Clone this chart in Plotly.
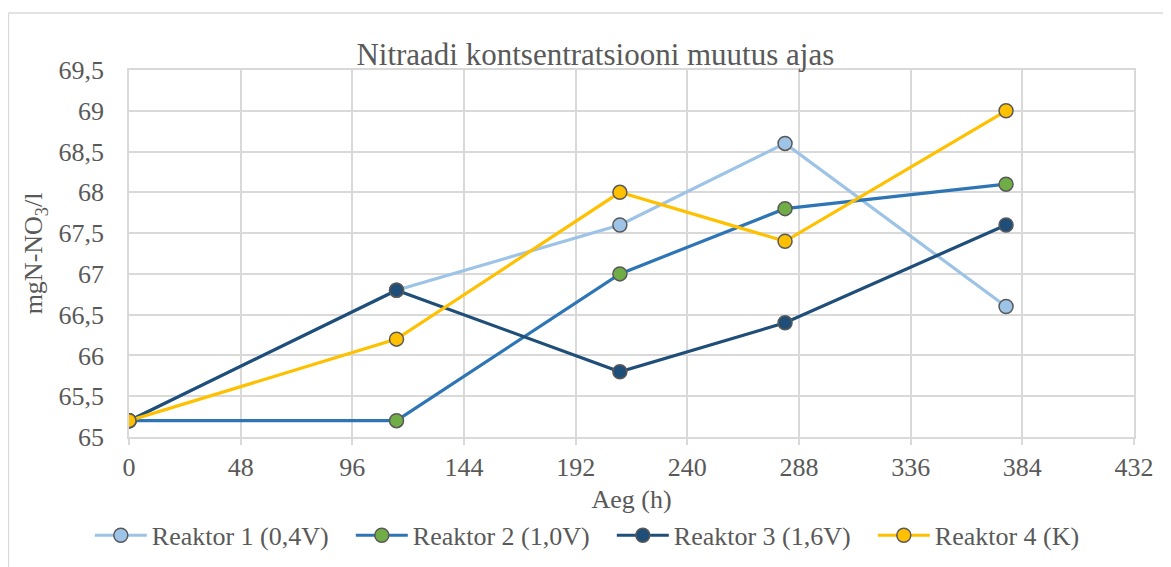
import plotly.graph_objects as go

# time points (h)
aeg = [0, 115, 211, 282, 377]

reaktor_1 = [65.2, 66.8, 67.6, 68.6, 66.6]
reaktor_2 = [65.2, 65.2, 67.0, 67.8, 68.1]
reaktor_3 = [65.2, 66.8, 65.8, 66.4, 67.6]
reaktor_4 = [65.2, 66.2, 68.0, 67.4, 69.0]

series = [
    ("Reaktor 1 (0,4V)", reaktor_1, "#9DC3E6", "#9DC3E6"),
    ("Reaktor 2 (1,0V)", reaktor_2, "#2E75B6", "#70AD47"),
    ("Reaktor 3 (1,6V)", reaktor_3, "#1F4E79", "#1F4E79"),
    ("Reaktor 4 (K)", reaktor_4, "#FFC000", "#FFC000"),
]

FONT = "Liberation Serif"
GRAY = "#595959"
GRID = "#D9D9D9"

fig = go.Figure()
for name, vals, line_col, marker_col in series:
    fig.add_trace(go.Scatter(
        x=aeg, y=vals, name=name, mode="lines+markers",
        line=dict(color=line_col, width=3.2),
        marker=dict(size=14, color=marker_col, line=dict(color=GRAY, width=1.5)),
    ))

# the page body adds an 8px margin, so the figure is 8px smaller than the window
fig.update_layout(
    width=1163, height=559,
    paper_bgcolor="white", plot_bgcolor="white",
    margin=dict(l=121, r=37, t=62, b=130, autoexpand=False),
    font=dict(family=FONT, color=GRAY, size=26),
    title=dict(text="Nitraadi kontsentratsiooni muutus ajas", x=0.505, xanchor="center",
               y=0.917, yanchor="middle", font=dict(family=FONT, size=31, color=GRAY)),
    separators=", ",
    legend=dict(orientation="h", x=-0.039, xanchor="left", y=-0.268, yanchor="middle",
                font=dict(family=FONT, size=26, color=GRAY), itemwidth=52,
                entrywidth=194, traceorder="normal"),
    showlegend=True,
    xaxis=dict(
        range=[0, 432], tick0=0, dtick=48, showgrid=True, gridcolor=GRID, gridwidth=1.5,
        zeroline=False, showline=True, linecolor=GRID, linewidth=1.5, mirror=True,
        ticks="outside", ticklen=6, tickcolor=GRID, tickwidth=1.5, ticklabelstandoff=0,
        tickfont=dict(family=FONT, size=26, color=GRAY), automargin=False,
        title=dict(text="Aeg (h)", font=dict(family=FONT, size=26, color=GRAY), standoff=9),
    ),
    yaxis=dict(
        range=[65, 69.5], tick0=65, dtick=0.5, showgrid=True, gridcolor=GRID, gridwidth=1.5,
        zeroline=False, showline=True, linecolor=GRID, linewidth=1.5, mirror=True,
        ticks="", ticklabelstandoff=18, tickfont=dict(family=FONT, size=26, color=GRAY),
        automargin=False,
        title=dict(text="mgN-NO<sub>3</sub>/l", font=dict(family=FONT, size=26, color=GRAY),
                   standoff=8),
    ),
    shapes=[
        dict(type="line", xref="paper", yref="paper", x0=-0.12, x1=1.1, y0=1.155, y1=1.155,
             line=dict(color=GRID, width=1.5)),
        dict(type="line", xref="paper", yref="paper", x0=-0.12, x1=-0.12, y0=1.155, y1=-0.5,
             line=dict(color=GRID, width=1.5)),
    ],
)

fig.write_html("out.html")
